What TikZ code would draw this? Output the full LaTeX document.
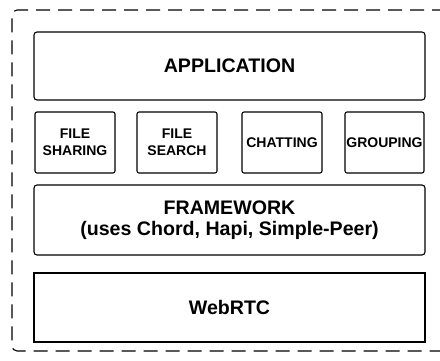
\documentclass[tikz,border=0pt]{standalone}
\usepackage{fontspec}
\setmainfont{Liberation Sans}
\usepackage{tikz}

\tikzset{
	layer/.style={draw, line width=1.1pt, rounded corners=3pt, minimum width=391pt, inner sep=0pt, align=center, font=\bfseries\fontsize{19.6}{20.5}\selectfont},
	module/.style={draw, line width=1.1pt, rounded corners=2pt, minimum width=80pt, minimum height=61pt, inner sep=0pt, align=center, font=\bfseries\fontsize{14}{17}\selectfont}
}

\begin{document}
\begin{tikzpicture}[x=1pt,y=-1pt]
	
	\useasboundingbox (0,0) rectangle (440,361);
	
	\coordinate (tr) at (446,10);
	\coordinate (tl) at (12,10);
	\coordinate (bl) at (12,351);
	\coordinate (br) at (446,351);
	\draw[line width=1.1pt, dash pattern=on 14pt off 8pt, rounded corners=5pt] (tr) -- (tl) -- (bl) -- (br);
	
	\node[layer, minimum height=68pt] (app) at (229.5,66) {APPLICATION};
	
	\node[module] (sharing) at (75,142.5) {FILE\\SHARING};
	\node[module] (search) at (177,142.5) {FILE\\SEARCH};
	\node[module] (chat) at (282,142.5) {CHATTING};
	\node[module, minimum width=79pt] (group) at (384.5,142.5) {GROUPING};
	
	\node[layer, minimum height=70pt] (frame) at (229.5,220) {FRAMEWORK\\(uses Chord, Hapi, Simple-Peer)};
	\node[layer, rounded corners=0pt, minimum height=69pt] (webrtc) at (229.5,307.5) {WebRTC};
	
\end{tikzpicture}
\end{document}
